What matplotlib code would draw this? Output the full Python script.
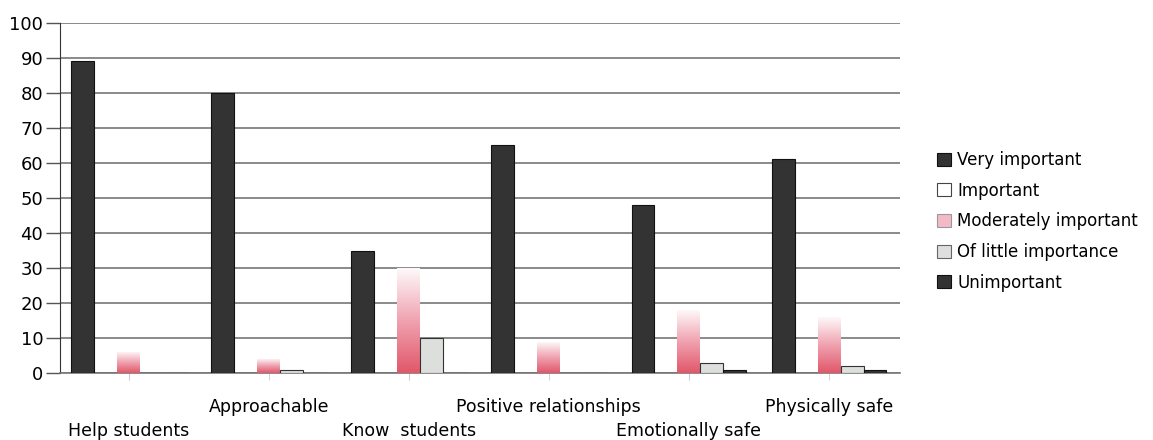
import matplotlib
matplotlib.use("Agg")
import matplotlib.pyplot as plt
import numpy as np
from matplotlib.patches import Patch
from matplotlib.colors import LinearSegmentedColormap

plt.rcParams['font.family'] = ['DejaVu Sans']

categories = ["Help students", "Approachable", "Know  students", "Positive relationships",
              "Emotionally safe", "Physically safe"]
series_names = ["Very important", "Important", "Moderately important",
                "Of little importance", "Unimportant"]
very_important = [89, 80, 35, 65, 48, 61]
important = [0, 0, 0, 0, 0, 0]
moderately_important = [6, 4, 30, 9, 18, 16]
little_importance = [0, 1, 10, 0, 3, 2]
unimportant = [0, 0, 0, 0, 1, 1]
y_ticks = list(range(0, 101, 10))

values = [very_important, important, moderately_important, little_importance, unimportant]

fig = plt.figure(figsize=(11.53, 4.40), dpi=100)
ax = fig.add_axes([0.052, 0.152, 0.729, 0.796])

w = 0.164
x = np.arange(len(categories))
cmap = LinearSegmentedColormap.from_list("pk", ["#fefafb", "#f0a3b1", "#e1586a"])

for j, vals in enumerate(values):
    pos = x + (j - 2) * w
    if j == 0 or j == 4:
        ax.bar(pos, vals, width=w, align='center', color='#333333',
               edgecolor='#111111', linewidth=0.8, zorder=3)
    elif j == 1:
        ax.bar(pos, vals, width=w, color='white', edgecolor='#444444',
               linewidth=0.8, zorder=3)
    elif j == 2:
        bars = ax.bar(pos, vals, width=w, color='none', edgecolor='none',
                      linewidth=0, zorder=3)
        for b, v in zip(bars, vals):
            if v <= 0:
                continue
            grad = np.linspace(1, 0, 64).reshape(-1, 1)
            im = ax.imshow(grad, extent=[b.get_x(), b.get_x() + b.get_width(), 0, v],
                           aspect='auto', cmap=cmap, vmin=0, vmax=1,
                           origin='lower', zorder=3, interpolation='bilinear')
            im.set_clip_path(b)
    else:
        ax.bar(pos, vals, width=w, color='#dcdfdb', edgecolor='#333333',
               linewidth=0.8, zorder=3)

ax.set_xlim(-0.49, 5.51)
ax.set_ylim(0, 100)
ax.set_yticks(y_ticks)
ax.tick_params(axis='y', labelsize=13, length=10, width=1, color='#555555', pad=2)
ax.yaxis.grid(True, color='#777777', linewidth=1.2, zorder=0)
ax.set_axisbelow(True)

for s in ['top', 'right']:
    ax.spines[s].set_visible(False)
ax.spines['left'].set_color('#333333')
ax.spines['bottom'].set_color('#777777')
ax.spines['bottom'].set_linewidth(1.2)

# staggered category labels
ax.set_xticks(x[0::2])
ax.set_xticklabels(categories[0::2])
ax.set_xticks(x[1::2], minor=True)
ax.set_xticklabels(categories[1::2], minor=True)
ax.tick_params(axis='x', which='major', labelsize=12.5, length=5, color='#cccccc', pad=30)
ax.tick_params(axis='x', which='minor', labelsize=12.5, length=5, color='#cccccc', pad=13)

handles = [
    Patch(facecolor='#333333', edgecolor='#111111', linewidth=0.8),
    Patch(facecolor='white', edgecolor='#444444', linewidth=0.8),
    Patch(facecolor='#f2b9c6', edgecolor='#999999', linewidth=0.8),
    Patch(facecolor='#dcdfdb', edgecolor='#666666', linewidth=0.8),
    Patch(facecolor='#333333', edgecolor='#111111', linewidth=0.8),
]
fig.legend(handles, series_names, loc='center left', bbox_to_anchor=(0.800, 0.497),
           frameon=False, fontsize=12, handlelength=0.8, handleheight=0.8,
           handletextpad=0.4, labelspacing=0.76)

fig.savefig("out.png", dpi=100)
